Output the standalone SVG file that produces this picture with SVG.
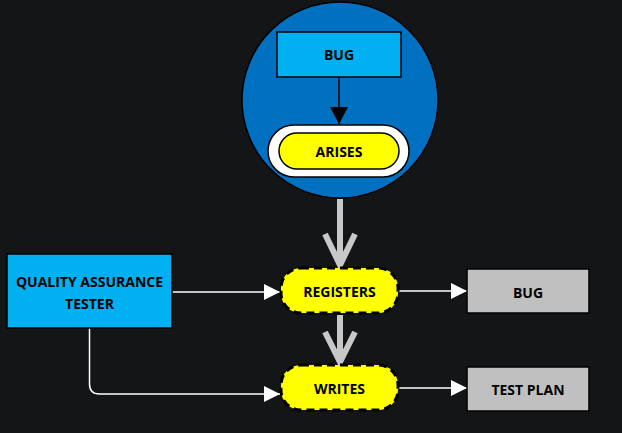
<svg xmlns="http://www.w3.org/2000/svg" width="622" height="433" viewBox="0 0 622 433">
<style>
text{font-family:"Open Sans","Noto Sans","Liberation Sans",sans-serif;font-weight:bold;font-size:14px;fill:#000;text-anchor:middle;dominant-baseline:central}
.blue{fill:#00b0f0;stroke:#000;stroke-width:1.5}
.grey{fill:#c0c0c0;stroke:#000;stroke-width:1.5}
.yel{fill:#ffff00;stroke:#000;stroke-width:3;stroke-dasharray:8 5}
.wl{fill:none;stroke:#fff;stroke-width:1.5}
.gl{fill:none;stroke:#c8c8c8;stroke-width:6}
</style>
<defs>
<marker id="wa" markerWidth="17" markerHeight="17" refX="16" refY="8" orient="auto" markerUnits="userSpaceOnUse"><path d="M0,0 L16,8 L0,16 Z" fill="#fff"/></marker>
<marker id="ba" markerWidth="18" markerHeight="18" refX="9" refY="17" orient="0" markerUnits="userSpaceOnUse"><path d="M0,0 L18,0 L9,17 Z" fill="#000"/></marker>
</defs>
<rect width="622" height="433" fill="#141517"/>
<g id="circle-group">
<circle cx="340" cy="100" r="98" fill="#0070c0" stroke="#000" stroke-width="1.5"/>
</g>
<g id="connectors">
<line x1="339" y1="77" x2="339" y2="124" stroke="#000" stroke-width="1.5" marker-end="url(#ba)"/>
<line class="gl" x1="340" y1="199" x2="340" y2="264"/>
<polyline class="gl" points="325,234 340,265 355,234"/>
<line class="gl" x1="340" y1="315" x2="340" y2="361"/>
<polyline class="gl" points="325,332 340,362 355,332"/>
<line class="wl" x1="172" y1="292" x2="280" y2="292" marker-end="url(#wa)"/>
<path class="wl" d="M89.5,328 V384 Q89.5,394 99.5,394 H280" marker-end="url(#wa)"/>
<line class="wl" x1="398" y1="291" x2="467" y2="291" marker-end="url(#wa)"/>
<line class="wl" x1="398" y1="388" x2="467" y2="388" marker-end="url(#wa)"/>
</g>
<g id="bug-top">
<rect class="blue" x="277" y="32" width="124" height="45"/>
<text x="339" y="54.5">BUG</text>
</g>
<g id="arises">
<rect x="268" y="125" width="141" height="52" rx="26" fill="#fff" stroke="#000" stroke-width="1.5"/>
<rect x="279" y="133" width="120" height="36" rx="18" fill="#ffff00" stroke="#000" stroke-width="1.5"/>
<text x="339" y="151.5">ARISES</text>
</g>
<g id="qa-tester">
<rect class="blue" x="7" y="254" width="165" height="74"/>
<text x="89.5" y="281">QUALITY ASSURANCE</text>
<text x="89.5" y="303">TESTER</text>
</g>
<g id="registers">
<rect class="yel" x="281" y="268" width="117" height="45" rx="20"/>
<text x="339.5" y="291.5">REGISTERS</text>
</g>
<g id="writes">
<rect class="yel" x="281" y="365" width="117" height="45" rx="20"/>
<text x="339.5" y="388.5">WRITES</text>
</g>
<g id="bug-right">
<rect class="grey" x="467" y="269" width="122" height="44"/>
<text x="528" y="292">BUG</text>
</g>
<g id="test-plan">
<rect class="grey" x="467" y="367" width="122" height="44"/>
<text x="528" y="389.5">TEST PLAN</text>
</g>
</svg>
